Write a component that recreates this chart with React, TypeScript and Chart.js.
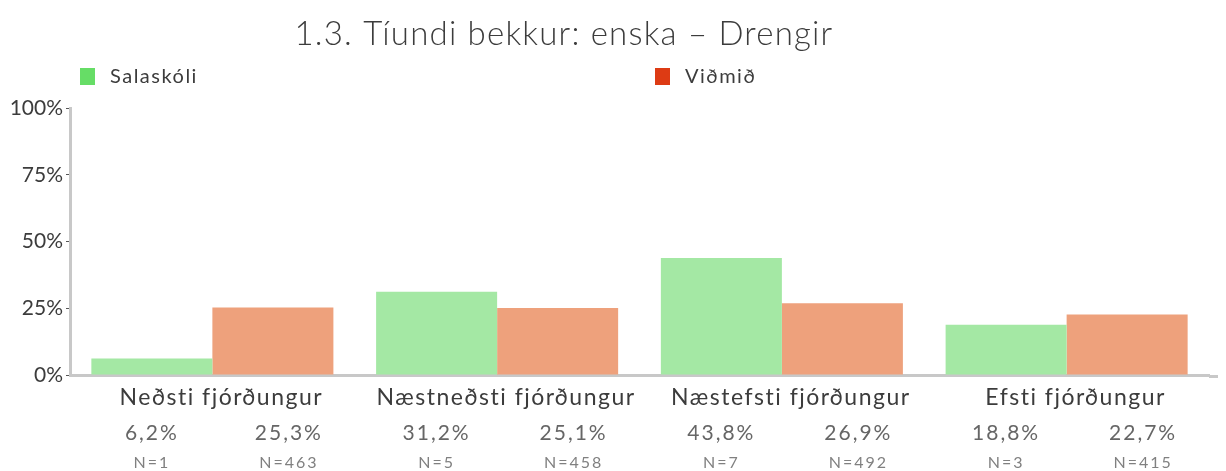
import React, { useEffect, useRef } from "react";
import { Chart, registerables } from "chart.js";

Chart.register(...registerables);

const TITLE = "1.3. Tíundi bekkur: enska – Drengir";
const categories = ["Neðsti fjórðungur", "Næstneðsti fjórðungur", "Næstefsti fjórðungur", "Efsti fjórðungur"];
const seriesNames = ["Salaskóli", "Viðmið"];
const salaskoli = [6.2, 31.2, 43.8, 18.8];
const vidmid = [25.3, 25.1, 26.9, 22.7];
const salaskoliN = [1, 5, 7, 3];
const vidmidN = [463, 458, 492, 415];
const yTicks = [0, 25, 50, 75, 100];

const barColors = ["#a4e8a4", "#eea17c"];
const legendColors = ["#66dd66", "#dd3b14"];
const FONT = "Lato, 'Noto Sans', sans-serif";

const fmt = (v: number) => v.toFixed(1).replace(".", ",") + "%";

const labelsPlugin = {
  id: "customLabels",
  afterDraw(chart: any) {
    const ctx = chart.ctx as CanvasRenderingContext2D;
    const x = chart.scales.x;
    const area = chart.chartArea;
    ctx.save();
    // extend baseline to the right edge
    ctx.strokeStyle = "#c8c8c8";
    ctx.lineWidth = 3;
    ctx.beginPath();
    ctx.moveTo(area.right, area.bottom + 1.5);
    ctx.lineTo(chart.width, area.bottom + 1.5);
    ctx.stroke();

    // title
    (ctx as any).letterSpacing = "1.2px";
    ctx.fillStyle = "#3c3c3c";
    ctx.font = `300 33px ${FONT}`;
    ctx.textAlign = "center";
    ctx.textBaseline = "alphabetic";
    ctx.fillText(TITLE, 556, 37);

    // legend
    const legendX = [72, 647];
    (ctx as any).letterSpacing = "1.5px";
    ctx.font = `20px ${FONT}`;
    ctx.textAlign = "left";
    seriesNames.forEach((name, i) => {
      ctx.fillStyle = legendColors[i];
      ctx.fillRect(legendX[i], 60, 15, 17);
      ctx.fillStyle = "#3c3c3c";
      ctx.fillText(name, legendX[i] + 30, 75);
    });

    // category labels
    const metas = [chart.getDatasetMeta(0), chart.getDatasetMeta(1)];
    const vals = [salaskoli, vidmid];
    const ns = [salaskoliN, vidmidN];
    const offs = [0, 16];
    ctx.textAlign = "center";
    categories.forEach((cat, j) => {
      const cx = x.getPixelForValue(j);
      (ctx as any).letterSpacing = "1.5px";
      ctx.font = `23px ${FONT}`;
      ctx.fillStyle = "#3c3c3c";
      ctx.fillText(cat, cx + 9, area.bottom + 30);
      for (let d = 0; d < 2; d++) {
        const bx = metas[d].data[j].x + offs[d];
        (ctx as any).letterSpacing = "2px";
        ctx.font = `21px ${FONT}`;
        ctx.fillStyle = "#666666";
        ctx.fillText(fmt(vals[d][j]), bx, area.bottom + 65);
        ctx.font = `16px ${FONT}`;
        ctx.fillStyle = "#808080";
        ctx.fillText("N=" + ns[d][j], bx, area.bottom + 93);
      }
    });
    ctx.restore();
  },
};

export default function App() {
  const ref = useRef<HTMLCanvasElement>(null);
  useEffect(() => {
    if (!ref.current) return;
    const chart = new Chart(ref.current, {
      type: "bar",
      data: {
        labels: categories,
        datasets: [
          { label: seriesNames[0], data: salaskoli, backgroundColor: barColors[0], borderWidth: 0 },
          { label: seriesNames[1], data: vidmid, backgroundColor: barColors[1], borderWidth: 0 },
        ],
      },
      options: {
        animation: false,
        responsive: true,
        maintainAspectRatio: false,
        layout: { padding: { top: 100, left: 0, right: 9, bottom: 0 } },
        datasets: { bar: { categoryPercentage: 0.85, barPercentage: 1.0 } },
        plugins: {
          legend: { display: false },
          title: { display: false },
          tooltip: { enabled: false },
        },
        scales: {
          x: {
            grid: { display: false },
            ticks: { display: false },
            border: { display: true, color: "#c8c8c8", width: 3 },
            afterFit: (s: any) => {
              s.height = 96;
            },
          },
          y: {
            min: 0,
            max: 100,
            afterBuildTicks: (s: any) => {
              s.ticks = yTicks.map((v) => ({ value: v }));
            },
            ticks: {
              callback: (v: any) => v + "%",
              color: "#3c3c3c",
              font: { family: FONT, size: 21 },
              padding: 3,
            },
            grid: { drawOnChartArea: false, tickLength: 4, tickColor: "#555555", tickWidth: 1 },
            border: { display: true, color: "#c8c8c8", width: 3 },
            afterFit: (s: any) => {
              s.width = 62;
            },
          },
        },
      },
      plugins: [labelsPlugin],
    });
    return () => chart.destroy();
  }, []);
  return (
    <div style={{ position: "relative", width: "100%", height: 463 }}>
      <canvas ref={ref} />
    </div>
  );
}
